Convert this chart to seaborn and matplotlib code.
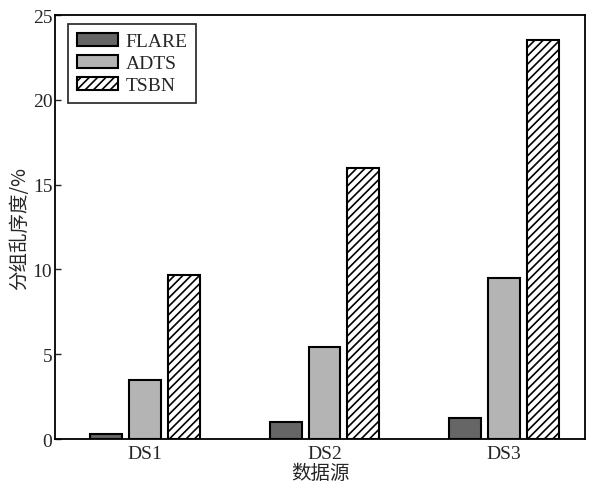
import matplotlib
matplotlib.use("Agg")
import matplotlib.pyplot as plt
import seaborn as sns
import pandas as pd

categories = ["DS1", "DS2", "DS3"]
methods = ["FLARE", "ADTS", "TSBN"]
flare = [0.3, 1.0, 1.25]
adts = [3.5, 5.4, 9.5]
tsbn = [9.65, 16.0, 23.5]

rows = []
for m, vals in zip(methods, [flare, adts, tsbn]):
    for c, v in zip(categories, vals):
        rows.append({"cat": c, "method": m, "val": v})
df = pd.DataFrame(rows)

sns.set_style("white")
plt.rcParams['font.family'] = ['Liberation Serif', 'Noto Sans CJK SC']
plt.rcParams['hatch.linewidth'] = 1.2

fig = plt.figure(figsize=(5.92, 4.89), dpi=100)
ax = fig.add_axes([0.093, 0.1002, 0.895, 0.867])

palette = {"FLARE": "#666666", "ADTS": "#b4b4b4", "TSBN": "#ffffff"}
sns.barplot(data=df, x="cat", y="val", hue="method", order=categories,
            hue_order=methods, palette=palette, width=0.65, gap=0.18,
            edgecolor="black", linewidth=1.5, saturation=1, ax=ax, legend=False)

for cont, m in zip(ax.containers, methods):
    for p in cont:
        if m == "TSBN":
            p.set_hatch("////")

ax.set_xlim(-0.5, 2.45)
ax.set_ylim(0, 25)
ax.set_yticks([0, 5, 10, 15, 20, 25])
ax.tick_params(axis='y', direction='in', length=4, width=1, labelsize=14, left=True, pad=2)
ax.tick_params(axis='x', direction='in', length=0, labelsize=14, pad=4)
for s in ax.spines.values():
    s.set_color("black")
    s.set_linewidth(1.3)

ax.set_xlabel("数据源", fontsize=14, family=['Noto Sans CJK SC'], labelpad=0)
ax.set_ylabel("分组乱序度/%", fontsize=14, family=['Noto Sans CJK SC', 'Liberation Serif'], labelpad=2)

handles = [cont.patches[0] for cont in ax.containers]
leg = ax.legend(handles, methods, loc="upper left", bbox_to_anchor=(0.025, 0.979),
                frameon=True, fancybox=False, edgecolor="black", fontsize=14,
                handlelength=2.1, handleheight=0.65, handletextpad=0.4,
                labelspacing=0.25, borderpad=0.45, borderaxespad=0)
leg.get_frame().set_linewidth(1.3)

fig.savefig("out.png", dpi=100)
